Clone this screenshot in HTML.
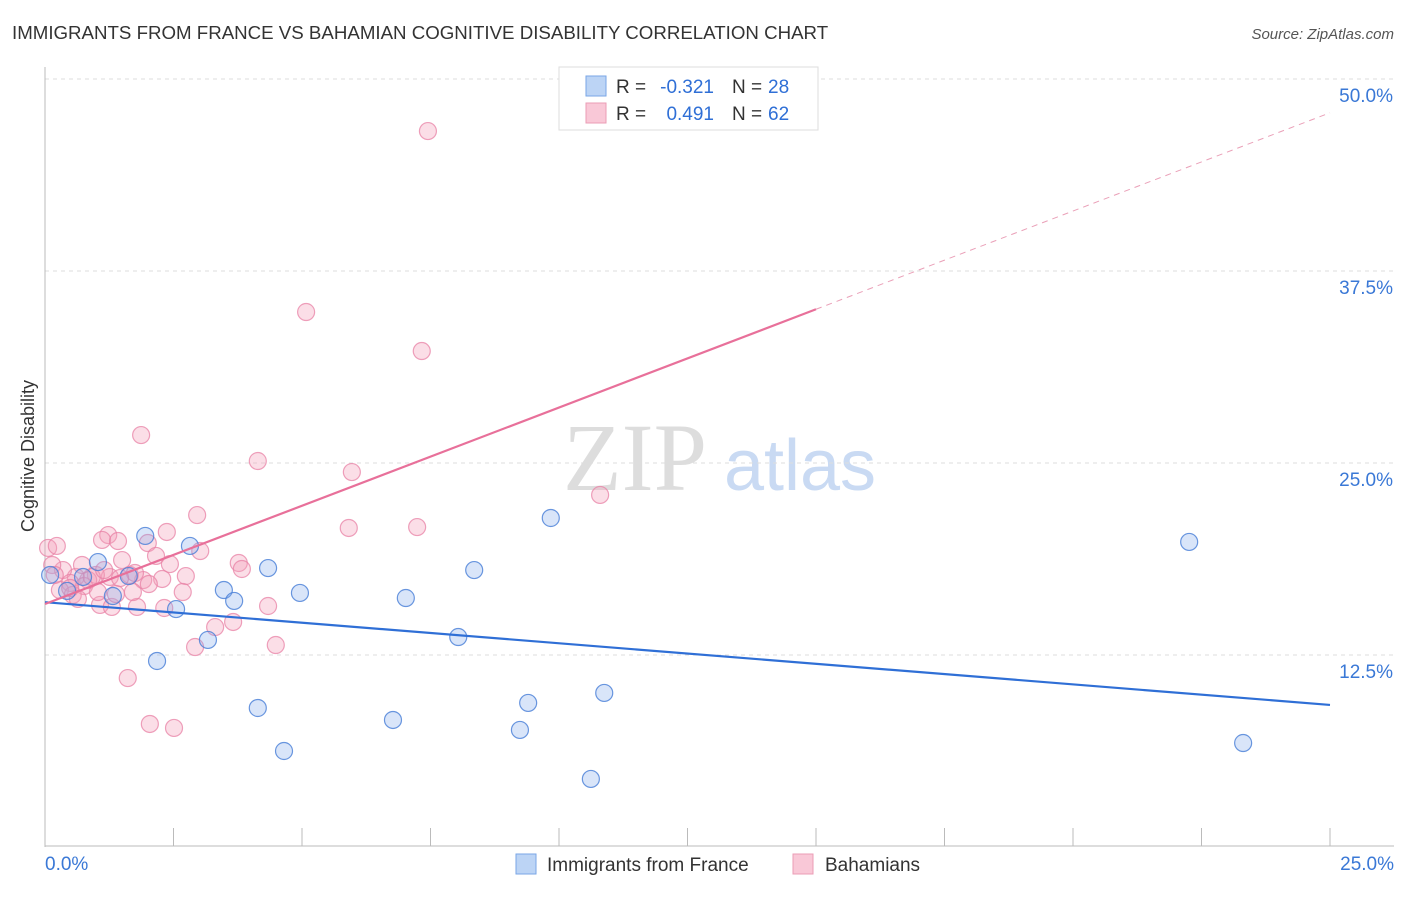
<!DOCTYPE html>
<html><head><meta charset="utf-8"><style>
body{margin:0;background:#fff;font-family:"Liberation Sans",sans-serif;}
</style></head><body>
<svg width="1406" height="892" xmlns="http://www.w3.org/2000/svg" font-family="Liberation Sans, sans-serif">
<text x="12" y="39" font-size="18.7" fill="#333">IMMIGRANTS FROM FRANCE VS BAHAMIAN COGNITIVE DISABILITY CORRELATION CHART</text>
<text x="1394" y="39" font-size="15" fill="#555" font-style="italic" text-anchor="end">Source: ZipAtlas.com</text>
<text x="34" y="456" font-size="18" fill="#333" text-anchor="middle" transform="rotate(-90 34 456)">Cognitive Disability</text>
<g><text x="635" y="490" font-size="96" fill="#ddd" font-family="Liberation Serif, serif" text-anchor="middle">ZIP</text><text x="800" y="490" font-size="72" fill="#c9daf3" text-anchor="middle">atlas</text></g>
<g id="grid"></g><g id="axes"></g><g id="pts"></g><g id="lines"></g>
<g>
<rect x="559" y="67" width="259" height="63" fill="#fff" stroke="#ddd"/>
<rect x="586" y="76" width="20" height="20" fill="#bcd4f5" stroke="#7aa6e6"/>
<rect x="586" y="103" width="20" height="20" fill="#f9c8d7" stroke="#eb9db6"/>
<text x="616" y="93" font-size="19" fill="#333">R =</text>
<text x="714" y="93" font-size="19" fill="#2f6fd6" text-anchor="end">-0.321</text>
<text x="732" y="93" font-size="19" fill="#333">N =</text>
<text x="768" y="93" font-size="19" fill="#2f6fd6">28</text>
<text x="616" y="120" font-size="19" fill="#333">R =</text>
<text x="714" y="120" font-size="19" fill="#2f6fd6" text-anchor="end">0.491</text>
<text x="732" y="120" font-size="19" fill="#333">N =</text>
<text x="768" y="120" font-size="19" fill="#2f6fd6">62</text>
</g>
<g>
<rect x="516" y="854" width="20" height="20" fill="#bcd4f5" stroke="#7aa6e6"/>
<text x="547" y="871" font-size="19" fill="#333">Immigrants from France</text>
<rect x="793" y="854" width="20" height="20" fill="#f9c8d7" stroke="#eb9db6"/>
<text x="825" y="871" font-size="19" fill="#333">Bahamians</text>
</g>
</svg>
<script>
const blueX=[1.95,1.03,2.82,4.34,3.48,3.68,4.96,2.55,1.32,1.63,0.74,0.43,0.10,3.17,2.18,4.14,4.65,6.77,7.02,8.04,8.35,9.40,9.24,9.84,10.88,10.62,22.26,23.31];
const blueY=[20.25,18.55,19.60,18.16,16.73,16.02,16.54,15.49,16.34,17.64,17.58,16.67,17.71,13.48,12.11,9.05,6.25,8.27,16.21,13.67,18.03,9.38,7.62,21.42,10.03,4.43,19.86,6.77];
const pinkX=[7.45,5.08,7.33,1.87,4.14,5.97,10.80,7.24,5.91,2.96,2.37,1.23,2.00,1.11,1.42,0.06,0.23,3.02,3.77,3.83,2.16,1.50,2.43,2.74,2.28,1.91,1.65,1.26,0.99,0.84,0.60,0.35,0.14,0.49,0.76,0.29,0.54,0.64,1.07,1.30,1.79,2.32,2.68,1.71,1.38,2.02,4.34,3.66,3.31,2.92,4.49,1.61,2.04,2.51,0.91,0.19,1.75,1.15,0.72,0.49,1.03,1.46];
const pinkY=[46.61,34.83,32.29,26.82,25.13,24.41,22.92,20.83,20.77,21.61,20.51,20.31,19.79,19.99,19.92,19.47,19.60,19.27,18.49,18.10,18.95,18.68,18.42,17.64,17.45,17.38,17.71,17.58,17.71,17.38,17.58,18.03,18.36,17.19,16.99,16.73,16.41,16.15,15.76,15.63,15.63,15.56,16.60,16.60,16.47,17.12,15.69,14.65,14.32,13.02,13.15,11.00,8.01,7.75,17.58,17.71,17.84,18.03,18.36,16.86,16.60,17.51];
const yTicks=[12.5,25,37.5,50];
const yTickLabels=["12.5%","25.0%","37.5%","50.0%"];
const blueLine=[15.94,9.25];
const pinkLine=[15.82,47.8];
const pinkSolidEnd=15;
const NS="http://www.w3.org/2000/svg";
const sx=v=>45+v*51.4, sy=v=>847-v*15.36;
function mk(tag,attrs,parent){const e=document.createElementNS(NS,tag);for(const k in attrs)e.setAttribute(k,attrs[k]);document.getElementById(parent).appendChild(e);return e;}
yTicks.forEach((t,i)=>{
 const g=mk('line',{x1:45,x2:1394,y1:sy(t),y2:sy(t),stroke:'#ddd','stroke-dasharray':'4,4'},'grid');
 
 
 const l=mk('text',{x:1393,y:sy(t)+23,'font-size':19,fill:'#3a78d6','text-anchor':'end'},'axes');
 l.textContent=yTickLabels[i];
 
 
});
let a=mk('line',{x1:45,x2:45,y1:67,y2:847,stroke:'#bbb'},'axes');


a=mk('line',{x1:45,x2:1394,y1:846,y2:846,stroke:'#bbb'},'axes');


for(let i=0;i<=10;i++){const t=mk('line',{x1:sx(i*2.5),x2:sx(i*2.5),y1:828,y2:846,stroke:'#bbb'},'axes');
 
 }
let xl=mk('text',{x:45,y:870,'font-size':19,fill:'#3a78d6'},'axes');xl.textContent='0.0%';


xl=mk('text',{x:1394,y:870,'font-size':19,fill:'#3a78d6','text-anchor':'end'},'axes');xl.textContent='25.0%';


pinkX.forEach((x,i)=>{const c=mk('circle',{cx:sx(x),cy:sy(pinkY[i]),r:8.5,fill:'rgba(244,160,186,0.35)',stroke:'rgba(232,130,165,0.75)','stroke-width':1.2},'pts');
 
 });
blueX.forEach((x,i)=>{const c=mk('circle',{cx:sx(x),cy:sy(blueY[i]),r:8.5,fill:'rgba(130,170,235,0.3)',stroke:'rgba(70,125,215,0.8)','stroke-width':1.2},'pts');
 
 });
let ln=mk('line',{x1:sx(0),y1:sy(blueLine[0]),x2:sx(25),y2:sy(blueLine[1]),stroke:'#2f6fd6','stroke-width':2.2},'lines');


const pAt=x=>pinkLine[0]+(pinkLine[1]-pinkLine[0])*x/25;
ln=mk('line',{x1:sx(0),y1:sy(pAt(0)),x2:sx(pinkSolidEnd),y2:sy(pAt(pinkSolidEnd)),stroke:'#e8709a','stroke-width':2.2},'lines');


ln=mk('line',{x1:sx(pinkSolidEnd),y1:sy(pAt(pinkSolidEnd)),x2:sx(25),y2:sy(pAt(25)),stroke:'#eaa0b8','stroke-width':1,'stroke-dasharray':'6,5'},'lines');


</script>
</body></html>
